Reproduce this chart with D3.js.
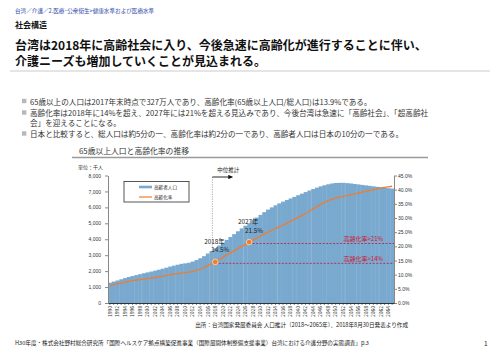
<!DOCTYPE html>
<html>
<head>
<meta charset="utf-8">
<script src="https://cdn.jsdelivr.net/npm/d3@7"></script>
<style>
  body { margin: 0; background: #fff; }
  svg { display: block; font-family: "Noto Sans CJK JP", "Noto Sans", sans-serif; }
</style>
</head>
<body>
<svg width="500" height="353"></svg>
<script>
const svg = d3.select("svg");

// years shown on the x axis (1990 - 2065)
const years = d3.range(1990, 2066);

// 65+ population, thousands
const elderly = [
  1270, 1345, 1413, 1490, 1563, 1631, 1692, 1752, 1810, 1865,
  1921, 1973, 2031, 2088, 2150, 2217, 2287, 2343, 2402, 2457,
  2488, 2528, 2600, 2694, 2809, 2939, 3106, 3268, 3433, 3607,
  3786, 3960, 4140, 4320, 4500, 4680, 4850, 4990, 5180, 5360,
  5530, 5700, 5860, 6000, 6130, 6250, 6360, 6460, 6560, 6660,
  6760, 6860, 6960, 7060, 7150, 7240, 7320, 7390, 7450, 7500,
  7530, 7540, 7540, 7520, 7500, 7470, 7440, 7410, 7380, 7350,
  7320, 7290, 7260, 7230, 7200, 7180
];

// aging rate, %
const agingRate = [
  6.2, 6.5, 6.8, 7.1, 7.4, 7.6, 7.9, 8.1, 8.3, 8.4,
  8.6, 8.8, 9.0, 9.2, 9.5, 9.7, 10.0, 10.2, 10.4, 10.6,
  10.7, 10.9, 11.2, 11.5, 12.0, 12.5, 13.2, 13.9, 14.5, 15.3,
  16.1, 16.9, 17.7, 18.4, 19.2, 20.0, 20.7, 21.5, 22.2, 22.9,
  23.6, 24.3, 25.0, 25.6, 26.3, 26.9, 27.5, 28.1, 28.8, 29.5,
  30.2, 30.9, 31.6, 32.4, 33.2, 34.0, 34.8, 35.5, 36.1, 36.6,
  37.0, 37.3, 37.6, 37.9, 38.2, 38.5, 38.8, 39.1, 39.4, 39.7,
  40.0, 40.3, 40.6, 40.8, 41.0, 41.2
];

const leftTicks = d3.range(0, 8001, 1000);
const rightTicks = d3.range(0, 46, 5);
const labelYears = years.filter(y => y % 2 === 0);

// highlighted points
const callouts = [
  { year: 2018, rate: 14.5, threshold: 14, label: "2018年", value: "14.5%", note: "高齢化率>14%" },
  { year: 2027, rate: 21.5, threshold: 21, label: "2027年", value: "21.5%", note: "高齢化率>21%" }
];

const bullets = [
  ["65歳以上の人口は2017年末時点で327万人であり、高齢化率(65歳以上人口/総人口)は13.9%である。"],
  ["高齢化率は2018年に14%を超え、2027年には21%を超える見込みであり、今後台湾は急速に「高齢社会」、「超高齢社", "会」を迎えることになる。"],
  ["日本と比較すると、総人口は約5分の一、高齢化率は約2分の一であり、高齢者人口は日本の10分の一である。"]
];

const data = years.map((y, i) => ({ year: y, pop: elderly[i], rate: agingRate[i] }));

// ---- header ----
svg.append("text").attr("x", 15).attr("y", 11)
  .attr("dominant-baseline", "central")
  .attr("font-size", 5.6).attr("fill", "#3048a8")
  .text("台湾／介護／2.医療･公衆衛生>健康水準および医療水準");

svg.append("text").attr("x", 15).attr("y", 24.5)
  .attr("dominant-baseline", "central")
  .attr("font-size", 8).attr("font-weight", "bold").attr("fill", "#111")
  .text("社会構造");

svg.append("text").attr("x", 15).attr("y", 44)
  .attr("dominant-baseline", "central")
  .attr("font-size", 12).attr("font-weight", "bold").attr("fill", "#111")
  .text("台湾は2018年に高齢社会に入り、今後急速に高齢化が進行することに伴い、");
svg.append("text").attr("x", 15).attr("y", 60)
  .attr("dominant-baseline", "central")
  .attr("font-size", 12).attr("font-weight", "bold").attr("fill", "#111")
  .text("介護ニーズも増加していくことが見込まれる。");

svg.append("line").attr("x1", 10).attr("x2", 490).attr("y1", 71).attr("y2", 71)
  .attr("stroke", "#dcdcdc").attr("stroke-width", 1.5);

// ---- bullets ----
let by = 101;
bullets.forEach(lines => {
  svg.append("rect").attr("x", 22).attr("y", by - 2.2).attr("width", 4.4).attr("height", 4.4)
    .attr("fill", "#b8b8b8");
  lines.forEach((t, j) => {
    svg.append("text").attr("x", 30).attr("y", by + j * 9.5)
      .attr("dominant-baseline", "central")
      .attr("font-size", 7.6).attr("fill", "#333")
      .text(t);
  });
  by += (lines.length - 1) * 9.5 + 11.5;
});

// ---- chart ----
svg.append("text").attr("x", 134).attr("y", 150)
  .attr("text-anchor", "middle").attr("dominant-baseline", "central")
  .attr("font-size", 7.8).attr("fill", "#333")
  .text("65歳以上人口と高齢化率の推移");
svg.append("line").attr("x1", 72).attr("x2", 428).attr("y1", 157.5).attr("y2", 157.5)
  .attr("stroke", "#9a9a9a").attr("stroke-width", 1.5);

svg.append("text").attr("x", 78).attr("y", 166)
  .attr("dominant-baseline", "central")
  .attr("font-size", 5).attr("fill", "#333")
  .text("単位：千人");

const x = d3.scaleBand().domain(years).range([108, 394]).padding(0);
const yL = d3.scaleLinear().domain([0, 8000]).range([303, 175.5]);
const yR = d3.scaleLinear().domain([0, 45]).range([303, 175.5]);

// bars
svg.append("g")
  .selectAll("rect")
  .data(data)
  .join("rect")
  .attr("x", d => x(d.year))
  .attr("width", x.bandwidth() + 0.4)
  .attr("y", d => yL(d.pop))
  .attr("height", d => yL(0) - yL(d.pop))
  .attr("fill", "#79a9ce");

// faint seams seen in the original
svg.append("g")
  .selectAll("line")
  .data(years.filter((y, i) => i > 0 && i % 9 === 0))
  .join("line")
  .attr("x1", d => x(d)).attr("x2", d => x(d))
  .attr("y1", d => yL(elderly[years.indexOf(d)]) + 1).attr("y2", 303)
  .attr("stroke", "#9ec0dc").attr("stroke-width", 0.5);

// axes
const axisL = svg.append("g").attr("transform", "translate(108,0)")
  .call(d3.axisLeft(yL).tickValues(leftTicks).tickFormat(d3.format(",")).tickSize(3).tickSizeOuter(0));
axisL.selectAll("text").attr("font-size", 5).attr("fill", "#333").attr("x", -7);
axisL.selectAll("line").attr("stroke", "#888");
axisL.select(".domain").attr("stroke", "#888");

const axisR = svg.append("g").attr("transform", "translate(394,0)")
  .call(d3.axisRight(yR).tickValues(rightTicks).tickFormat(d => d.toFixed(1) + "%").tickSize(3).tickSizeOuter(0));
axisR.selectAll("text").attr("font-size", 5).attr("fill", "#333").attr("x", 4);
axisR.selectAll("line").attr("stroke", "#888");
axisR.select(".domain").attr("stroke", "#888");

const axisB = svg.append("g").attr("transform", "translate(0,303)")
  .call(d3.axisBottom(x).tickValues(years).tickSize(1.6).tickSizeOuter(0).tickFormat(""));
axisB.selectAll("line").attr("stroke", "#333");
axisB.select(".domain").attr("stroke", "#333");

svg.append("g")
  .selectAll("text")
  .data(labelYears)
  .join("text")
  .attr("transform", d => `translate(${x(d) + x.bandwidth() / 2 + 1.8},306) rotate(-90)`)
  .attr("text-anchor", "end")
  .attr("font-size", 5).attr("fill", "#333")
  .text(d => d);

// projection marker
const x18 = x(2018);
svg.append("line").attr("x1", x18 - 1).attr("x2", x18 - 1).attr("y1", 177).attr("y2", 303)
  .attr("stroke", "#9a9a9a").attr("stroke-width", 0.8).attr("stroke-dasharray", "1.2,1.2");
svg.append("defs").append("marker")
  .attr("id", "arrow").attr("viewBox", "0 0 10 10").attr("refX", 9).attr("refY", 5)
  .attr("markerWidth", 5).attr("markerHeight", 5).attr("orient", "auto")
  .append("path").attr("d", "M0,0L10,5L0,10Z").attr("fill", "#111");
svg.append("line").attr("x1", x18 - 1).attr("x2", x18 + 19).attr("y1", 177).attr("y2", 177)
  .attr("stroke", "#111").attr("stroke-width", 0.9).attr("marker-end", "url(#arrow)");
svg.append("text").attr("x", x18 + 4).attr("y", 169.5)
  .attr("dominant-baseline", "central")
  .attr("font-size", 5.5).attr("fill", "#222")
  .text("中位推計");

// threshold lines
callouts.forEach(c => {
  const cx = x(c.year) + x.bandwidth() / 2;
  svg.append("line").attr("x1", cx).attr("x2", 394)
    .attr("y1", yR(c.threshold)).attr("y2", yR(c.threshold))
    .attr("stroke", "#b8284a").attr("stroke-width", 0.9).attr("stroke-dasharray", "2,1.5");
  svg.append("text").attr("x", 383).attr("y", yR(c.threshold) - 5)
    .attr("text-anchor", "end").attr("dominant-baseline", "central")
    .attr("font-size", 6).attr("fill", "#d0102a")
    .text(c.note);
});

// rate line
svg.append("path")
  .datum(data)
  .attr("fill", "none")
  .attr("stroke", "#ed7d31")
  .attr("stroke-width", 1.3)
  .attr("d", d3.line().x(d => x(d.year) + x.bandwidth() / 2).y(d => yR(d.rate)));

callouts.forEach(c => {
  const cx = x(c.year) + x.bandwidth() / 2;
  svg.append("circle").attr("cx", cx).attr("cy", yR(c.rate)).attr("r", 2.8)
    .attr("fill", "#ed7d31").attr("stroke", "#fbd3b0").attr("stroke-width", 0.9);
  svg.append("text").attr("x", cx - 11).attr("y", yR(c.rate) - 20.5)
    .attr("dominant-baseline", "central")
    .attr("font-size", 6.3).attr("fill", "#222")
    .text(c.label);
  svg.append("text").attr("x", cx - 4).attr("y", yR(c.rate) - 12)
    .attr("dominant-baseline", "central")
    .attr("font-size", 6.3).attr("fill", "#222")
    .text(c.value);
});

// legend
const legend = svg.append("g").attr("transform", "translate(124,181.5)");
legend.append("rect").attr("width", 65).attr("height", 20.5)
  .attr("fill", "#fff").attr("stroke", "#444").attr("stroke-width", 0.9);
legend.append("line").attr("x1", 15).attr("x2", 28).attr("y1", 5.5).attr("y2", 5.5)
  .attr("stroke", "#79a9ce").attr("stroke-width", 2.6);
legend.append("text").attr("x", 30).attr("y", 5.5).attr("dominant-baseline", "central")
  .attr("font-size", 4.6).attr("fill", "#222").text("高齢者人口");
legend.append("line").attr("x1", 15).attr("x2", 28).attr("y1", 15.5).attr("y2", 15.5)
  .attr("stroke", "#ed7d31").attr("stroke-width", 1.2);
legend.append("text").attr("x", 30).attr("y", 15.5).attr("dominant-baseline", "central")
  .attr("font-size", 4.6).attr("fill", "#222").text("高齢化率");

// source
svg.append("text").attr("x", 408).attr("y", 324.5)
  .attr("text-anchor", "end").attr("dominant-baseline", "central")
  .attr("font-size", 5.6).attr("fill", "#222")
  .text("出所：台湾国家発展委員会 人口推計（2018～2065年）、2018年8月30日発表より作成");

// footer
svg.append("text").attr("x", 15).attr("y", 342.5)
  .attr("dominant-baseline", "central")
  .attr("font-size", 5.6).attr("fill", "#222")
  .text("H30年度・株式会社野村総合研究所「国際ヘルスケア拠点構築促進事業（国際展開体制整備支援事業）台湾における介護分野の実態調査」p.3");
svg.append("text").attr("x", 484).attr("y", 342.5)
  .attr("dominant-baseline", "central")
  .attr("font-size", 6.5).attr("fill", "#222")
  .text("1");
</script>
</body>
</html>
